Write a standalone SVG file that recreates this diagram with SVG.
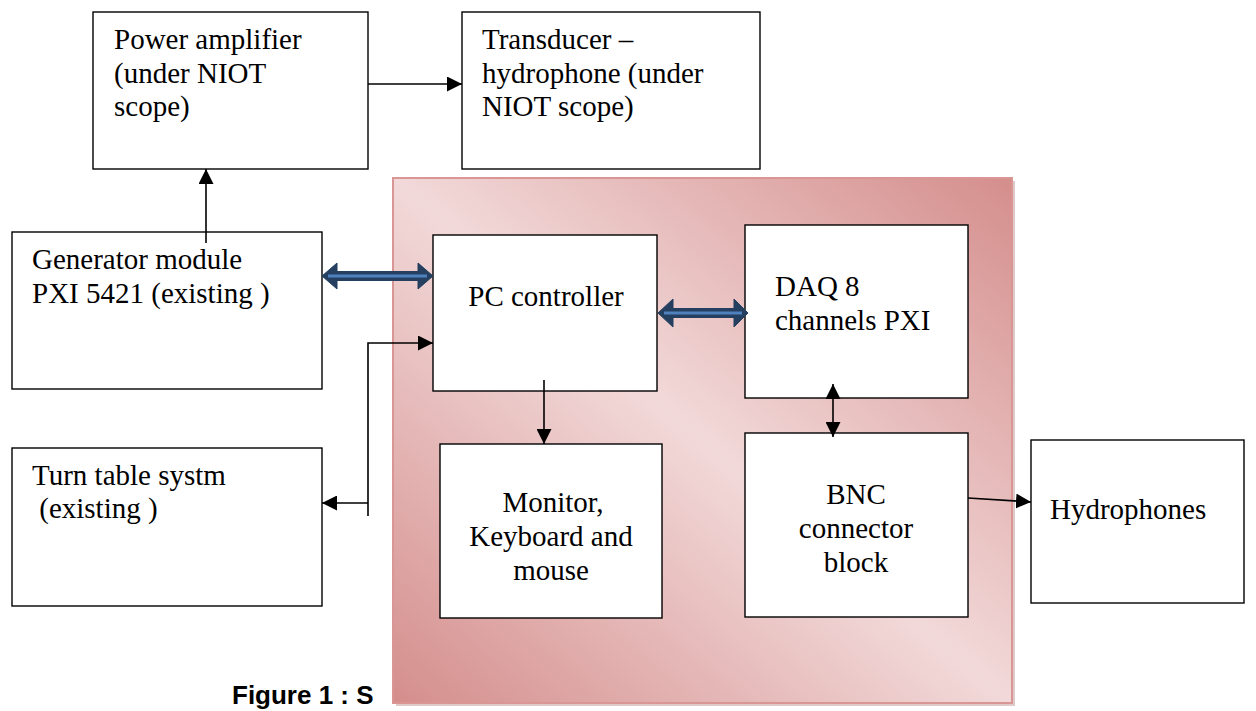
<svg xmlns="http://www.w3.org/2000/svg" width="1256" height="711" viewBox="0 0 1256 711">
<defs>
<style>
.box{fill:#fff;stroke:#000;stroke-width:1.4}
.t{font-family:"Liberation Serif","Times New Roman",serif;font-size:29px;fill:#000}
.c{text-anchor:middle}
.ln{stroke:#000;stroke-width:1.6;fill:none}
.cap{font-family:"Liberation Sans",Arial,sans-serif;font-size:26px;font-weight:bold;fill:#000}
.dbl{fill:#243f60;stroke:#243f60;stroke-width:1}
.dblin{stroke:#4f81bd;stroke-width:3;fill:none}
</style>
<marker id="ah" viewBox="0 0 10 10" refX="10" refY="5" markerWidth="15" markerHeight="15" markerUnits="userSpaceOnUse" orient="auto-start-reverse">
<path d="M0,0 L10,5 L0,10 Z" fill="#000"/>
</marker>
<linearGradient id="pink" x1="1" y1="0" x2="0" y2="1">
<stop offset="0" stop-color="#d48e8c"/>
<stop offset="0.5" stop-color="#f2d9d9"/>
<stop offset="1" stop-color="#d48e8c"/>
</linearGradient>
</defs>

<text class="cap" x="232" y="704">Figure 1 : S</text>

<g id="frame">
<rect x="396" y="181" width="619" height="525" fill="#c9a6a6" opacity="0.6"/>
<rect x="393" y="178" width="619" height="525" fill="url(#pink)" stroke="#d99694" stroke-width="2"/>
</g>

<g id="power-amplifier">
<rect class="box" x="93" y="12" width="275" height="157"/>
<text class="t" x="114" y="49">Power amplifier</text>
<text class="t" x="114" y="83">(under NIOT</text>
<text class="t" x="114" y="116">scope)</text>
</g>

<g id="transducer">
<rect class="box" x="462" y="12" width="298" height="157"/>
<text class="t" x="482" y="49">Transducer –</text>
<text class="t" x="482" y="83">hydrophone (under</text>
<text class="t" x="482" y="116">NIOT scope)</text>
</g>

<g id="generator">
<rect class="box" x="12" y="232" width="310" height="157"/>
<text class="t" x="32" y="269">Generator module</text>
<text class="t" x="32" y="303">PXI 5421 (existing )</text>
</g>

<g id="turntable">
<rect class="box" x="12" y="448" width="310" height="158"/>
<text class="t" x="32" y="485">Turn table systm</text>
<text class="t" x="32" y="518" xml:space="preserve"> (existing )</text>
</g>

<g id="pc-controller">
<rect class="box" x="433" y="235" width="224" height="156"/>
<text class="t c" x="546" y="306">PC controller</text>
</g>

<g id="daq">
<rect class="box" x="745" y="225" width="223" height="173"/>
<text class="t" x="775" y="296">DAQ 8</text>
<text class="t" x="775" y="330">channels PXI</text>
</g>

<g id="monitor">
<rect class="box" x="440" y="444" width="222" height="174"/>
<text class="t c" x="553" y="512">Monitor,</text>
<text class="t c" x="551" y="546">Keyboard and</text>
<text class="t c" x="551" y="580">mouse</text>
</g>

<g id="bnc">
<rect class="box" x="745" y="433" width="223" height="184"/>
<text class="t c" x="856" y="504">BNC</text>
<text class="t c" x="856" y="538">connector</text>
<text class="t c" x="856" y="572">block</text>
</g>

<g id="hydrophones">
<rect class="box" x="1031" y="440" width="213" height="163"/>
<text class="t" x="1050" y="519">Hydrophones</text>
</g>

<g id="connectors">
<line class="ln" x1="368" y1="84" x2="462" y2="84" marker-end="url(#ah)"/>
<line class="ln" x1="206" y1="243" x2="206" y2="169" marker-end="url(#ah)"/>
<polyline class="ln" points="368,516 368,343 433,343" marker-end="url(#ah)"/>
<line class="ln" x1="368" y1="503" x2="322" y2="503" marker-end="url(#ah)"/>
<line class="ln" x1="544" y1="380" x2="544" y2="444" marker-end="url(#ah)"/>
<line class="ln" x1="833" y1="384" x2="833" y2="437" marker-start="url(#ah)" marker-end="url(#ah)"/>
<line class="ln" x1="968" y1="498" x2="1031" y2="502" marker-end="url(#ah)"/>
<g id="dbl1">
<polygon class="dbl" points="322,276 337,263 337,271.5 418,271.5 418,263 433,276 418,289 418,280.5 337,280.5 337,289"/>
<line class="dblin" x1="328" y1="276" x2="427" y2="276"/>
</g>
<g id="dbl2">
<polygon class="dbl" points="658,313 673,299 673,308.5 734,308.5 734,299 748,313 734,327 734,317.5 673,317.5 673,327"/>
<line class="dblin" x1="664" y1="313" x2="742" y2="313"/>
</g>
</g>
</svg>
